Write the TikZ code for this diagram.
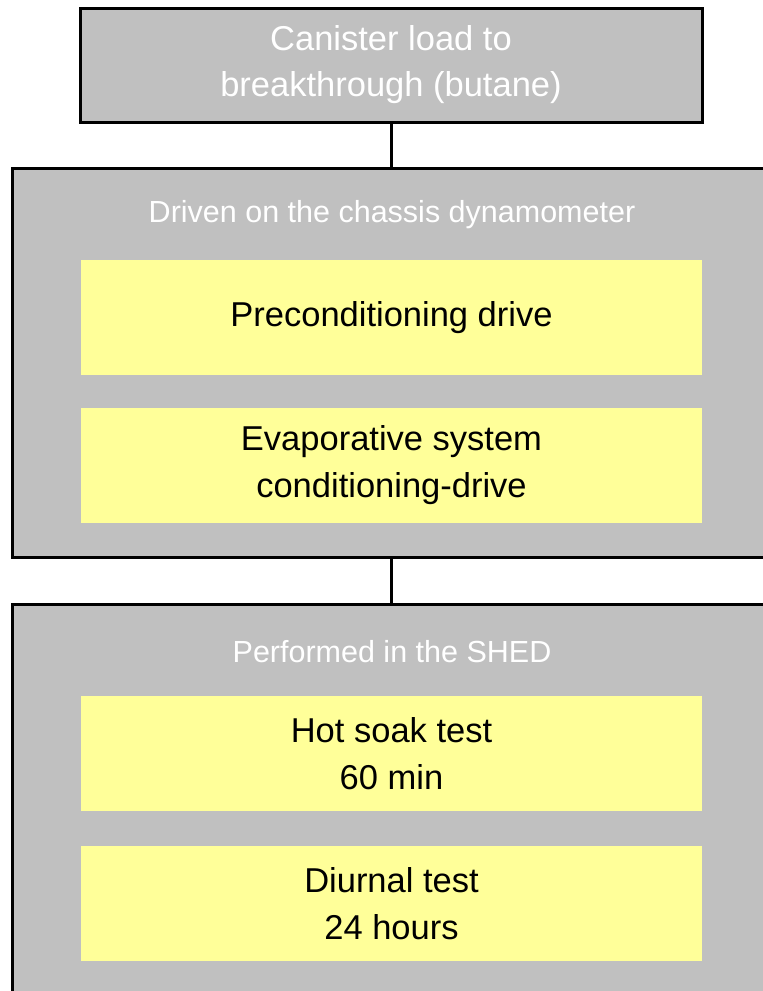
\documentclass[tikz,border=0pt]{standalone}
\usepackage{fontspec}
\setsansfont{Liberation Sans}
\usepackage{tikz}
\usetikzlibrary{positioning}
\definecolor{panelgray}{HTML}{C0C0C0}
\definecolor{taskyellow}{HTML}{FFFF99}

\begin{document}
\begin{tikzpicture}[x=1pt, y=-1pt, font=\sffamily,
    stage/.style={rectangle, minimum width=622pt, minimum height=114pt, inner sep=0pt, outer sep=0pt,
      draw=black, line width=3pt, fill=panelgray, text=white, align=center,
      font=\sffamily\fontsize{34.5}{46}\selectfont},
    group/.style={rectangle, minimum width=758pt, inner sep=0pt, outer sep=0pt,
      draw=black, line width=3pt, fill=panelgray},
    grouplabel/.style={text=white, inner sep=0pt, font=\sffamily\fontsize{30.5}{38}\selectfont},
    task/.style={rectangle, minimum width=621pt, minimum height=115pt, inner sep=0pt, outer sep=0pt,
      fill=taskyellow, text=black, align=center, font=\sffamily\fontsize{34.5}{47}\selectfont}]

    \useasboundingbox (0,0) rectangle (763,991);

    \node (load) [stage] at (391,65) {Canister load to\\breakthrough (butane)};

    % chassis dynamometer
    \node (dyno) [group, minimum height=389pt, below=46pt of load] {};
    \node (dynolabel) [grouplabel] at (392,215) {Driven on the chassis dynamometer};
    \node (precond) [task] at (391.5,317.5) {Preconditioning drive};
    \node (evap) [task, below=33pt of precond] {Evaporative system\\conditioning-drive};

    % SHED
    \node (shed) [group, minimum height=420pt, below=47pt of dyno] {};
    \node (shedlabel) [grouplabel] at (392,652) {Performed in the SHED};
    \node (hotsoak) [task] at (391.5,753.5) {Hot soak test\\60 min};
    \node (diurnal) [task, below=35pt of hotsoak] {Diurnal test\\24 hours};

    \draw [line width=3pt] (load.south) -- (dyno.north);
    \draw [line width=3pt] (dyno.south) -- (shed.north);
\end{tikzpicture}
\end{document}
